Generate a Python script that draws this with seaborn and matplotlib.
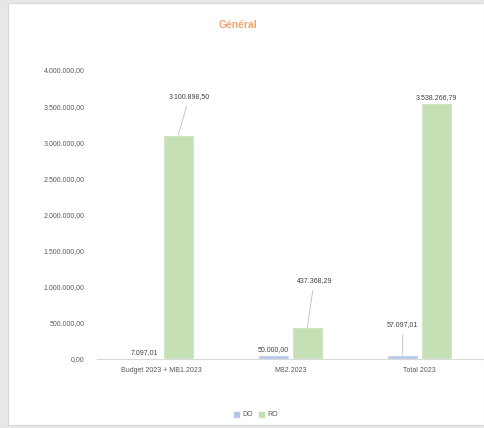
import pandas as pd
import matplotlib.pyplot as plt
import matplotlib.patches as mpatches
from matplotlib.ticker import FuncFormatter
import seaborn as sns

sns.set_style("white")
plt.rcParams['font.family'] = ['Liberation Sans', 'DejaVu Sans']

# chart data
categories = ["Budget 2023 + MB1.2023", "MB2.2023", "Total 2023"]
do_values = [7097.01, 50000.00, 57097.01]
ro_values = [3100898.50, 437368.29, 3538266.79]
series = ["DO", "RO"]
colors = {"DO": "#B4C7E7", "RO": "#C5E0B4"}

df = pd.DataFrame({
    "cat": categories * 2,
    "value": do_values + ro_values,
    "serie": ["DO"] * 3 + ["RO"] * 3,
})


def fr_fmt(v, pos=None):
    s = f"{v:,.2f}"
    return s.replace(",", " ").replace(".", ",").replace(" ", ".")


fig = plt.figure(figsize=(4.84, 4.28), dpi=100)
fig.patch.set_facecolor("#E7E7E7")
# white chart area with thin border
fig.patches.append(mpatches.Rectangle((8 / 484, 3 / 428), 476 / 484, 422 / 428,
                                      transform=fig.transFigure, facecolor="white",
                                      edgecolor="#D9D9D9", linewidth=0.8, zorder=-10))

ax = fig.add_axes([97 / 484, 1 - 359 / 428, 387 / 484, 289 / 428])
sns.barplot(data=df, x="cat", y="value", hue="serie", palette=colors,
            width=0.52, gap=0.08, saturation=1, ax=ax, legend=False)
ax.set_facecolor("none")
ax.set_xlim(-0.5, 2.5)
ax.set_ylim(0, 4000000)
ax.set_yticks(range(0, 4000001, 500000))
ax.yaxis.set_major_formatter(FuncFormatter(fr_fmt))
ax.set_xlabel("")
ax.set_ylabel("")
ax.tick_params(axis="both", labelsize=5, colors="#595959", length=0, pad=9)
ax.tick_params(axis="x", pad=6)
for sp in ["top", "right", "left"]:
    ax.spines[sp].set_visible(False)
ax.spines["bottom"].set_color("#D9D9D9")
ax.spines["bottom"].set_linewidth(0.8)

# data labels (offsets in points from bar top, None = plain label above bar)
do_offsets = [None, None, (0, 19)]
ro_offsets = [(8, 25), (5, 31), None]
bars = ax.patches
for i, (b, val, off) in enumerate(zip(bars[:3] + bars[3:6],
                                      do_values + ro_values,
                                      do_offsets + ro_offsets)):
    x = b.get_x() + b.get_width() / 2
    y = b.get_height()
    if off is None:
        ax.annotate(fr_fmt(val), (x, y), xytext=(0, 2), textcoords="offset points",
                    ha="center", va="bottom", fontsize=5, color="#404040")
    else:
        ax.annotate(fr_fmt(val), (x, y), xytext=off, textcoords="offset points",
                    ha="center", va="bottom", fontsize=5, color="#404040",
                    arrowprops=dict(arrowstyle="-", color="#BFBFBF", lw=0.6,
                                    shrinkA=2, shrinkB=0))

fig.text(238 / 484, 1 - 25 / 428, "Général", ha="center", va="center",
         fontsize=7.5, fontweight="bold", color="#F4A46E")

handles = [mpatches.Patch(color=colors[s], label=s) for s in series]
fig.legend(handles=handles, loc="center", bbox_to_anchor=(256 / 484, 1 - 415 / 428),
           ncol=2, frameon=False, fontsize=5, handlelength=0.7, handleheight=0.7,
           handletextpad=0.4, columnspacing=1.0, labelcolor="#595959")

fig.savefig("out.png", dpi=100)
